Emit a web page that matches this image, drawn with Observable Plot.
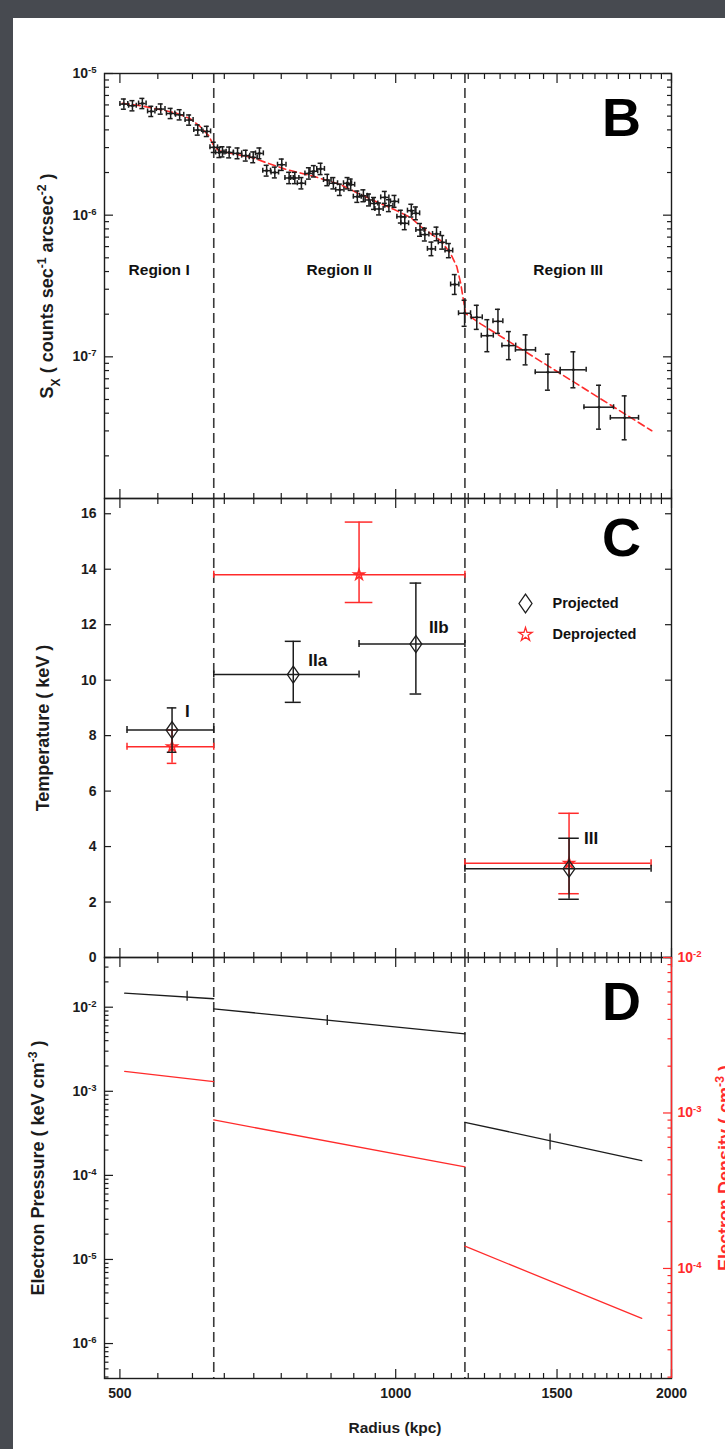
<!DOCTYPE html>
<html>
<head>
<meta charset="utf-8">
<script src="https://cdn.jsdelivr.net/npm/d3@7"></script>
<script src="https://cdn.jsdelivr.net/npm/@observablehq/plot@0.6"></script>
<style>
  html, body { margin: 0; padding: 0; background: #474a50; }
  #page { position: relative; width: 725px; height: 1449px; overflow: hidden; background: #474a50; }
  #sheet { position: absolute; left: 13px; top: 18px; width: 712px; height: 1431px; background: #ffffff; }
  #page svg { position: absolute; left: 0; top: 0; background: none !important; overflow: visible; max-width: none; }
</style>
</head>
<body>
<div id="page"><div id="sheet"></div></div>
<script>
// ================= DATA =================
const xDomain = [481, 2000];                     // Radius (kpc)
const regionNames = ["Region I", "Region II", "Region III"];
const regionEdges = [481, 633, 1190, 2000];
const edgeRadii = [633, 1190];                   // dashed boundaries

// Panel B : surface brightness profile
const sxRadius = [505,516,529,541,554,568,581,595,608,622,633,642,647,658,672,686,699,710,723,738,751,765,776,789,804,814,828,842,855,869,886,893,908,922,935,947,959,973,983,997,1013,1023,1040,1052,1063,1076,1094,1108,1124,1143,1160,1189,1226,1259,1293,1329,1386,1466,1563,1667,1778];
const sxValue = [6.08e-6,5.92e-6,6.14e-6,5.40e-6,5.61e-6,5.22e-6,5.11e-6,4.69e-6,3.99e-6,3.90e-6,3.01e-6,2.77e-6,2.80e-6,2.77e-6,2.73e-6,2.63e-6,2.56e-6,2.73e-6,2.06e-6,2.00e-6,2.27e-6,1.83e-6,1.83e-6,1.68e-6,1.97e-6,2.04e-6,2.12e-6,1.77e-6,1.68e-6,1.51e-6,1.68e-6,1.64e-6,1.35e-6,1.37e-6,1.28e-6,1.21e-6,1.106e-6,1.335e-6,1.167e-6,1.251e-6,9.76e-7,8.76e-7,1.076e-6,1.03e-6,7.87e-7,7.29e-7,5.78e-7,7.37e-7,6.43e-7,5.62e-7,3.24e-7,2.03e-7,1.90e-7,1.41e-7,1.78e-7,1.20e-7,1.12e-7,7.79e-8,8.10e-8,4.41e-8,3.71e-8];
const sxRadiusErr = [5,5,5,5,6,6,6,6,6,6,6,6,6,7,7,7,7,7,7,7,8,8,8,8,8,8,8,8,9,9,9,9,9,9,9,9,10,10,10,10,10,10,10,10,11,11,11,11,11,11,12,18,17,19,16,23,35,46,51,62,63];
const sxErrDex = [0.036,0.036,0.036,0.036,0.036,0.036,0.036,0.036,0.036,0.036,0.036,0.036,0.036,0.038,0.038,0.038,0.038,0.038,0.038,0.038,0.04,0.04,0.04,0.04,0.04,0.04,0.04,0.04,0.04,0.04,0.04,0.04,0.04,0.042,0.042,0.042,0.042,0.042,0.042,0.042,0.045,0.045,0.045,0.045,0.045,0.045,0.048,0.048,0.048,0.05,0.07,0.092,0.085,0.113,0.085,0.099,0.106,0.127,0.127,0.155,0.155];
const modelRadius = [503,527,554,575,597,612,625,633,641,660,695,725,758,814,871,909,963,995,1039,1065,1120,1148,1166,1177,1186,1192,1238,1369,1514,1674,1903];
const modelSx = [6.16e-6,5.92e-6,5.55e-6,5.28e-6,4.79e-6,4.21e-6,3.64e-6,3.09e-6,2.85e-6,2.74e-6,2.56e-6,2.33e-6,2.11e-6,1.88e-6,1.64e-6,1.43e-6,1.205e-6,1.10e-6,9.60e-7,8.30e-7,6.61e-7,5.35e-7,4.33e-7,3.34e-7,2.49e-7,2.02e-7,1.71e-7,1.14e-7,7.59e-8,5.05e-8,3.01e-8];

// Panel C : temperature
const projLabels = ["I", "IIa", "IIb", "III"];
const projRadius = [570, 773, 1052, 1546];
const projRadiusLo = [509, 633, 912, 1190];
const projRadiusHi = [633, 912, 1190, 1900];
const projTemp = [8.2, 10.2, 11.3, 3.2];
const projTempLo = [7.4, 9.2, 9.5, 2.1];
const projTempHi = [9.0, 11.4, 13.5, 4.3];
const deprojRadius = [570, 912, 1546];
const deprojRadiusLo = [509, 633, 1190];
const deprojRadiusHi = [633, 1190, 1900];
const deprojTemp = [7.6, 13.8, 3.4];
const deprojTempLo = [7.0, 12.8, 2.3];
const deprojTempHi = [8.2, 15.7, 5.2];
const legendNames = ["Projected", "Deprojected"];

// Panel D : pressure (black, left axis) and density (red, right axis)
const segNames = ["I", "II", "III"];
const segStart = [506, 633, 1190];
const segEnd = [633, 1190, 1856];
const pressStart = [0.01468, 0.00957, 4.28e-4];
const pressEnd = [0.0126, 0.00482, 1.50e-4];
const densStart = [1.85e-3, 9.02e-4, 1.39e-4];
const densEnd = [1.59e-3, 4.50e-4, 4.78e-5];
const pressErrRadius = [592, 842, 1474];
const pressErrLo = [0.0118, 0.00606, 2.0e-4];
const pressErrHi = [0.0155, 0.00797, 3.11e-4];

// Ticks
const xMajorTicks = [500, 1000, 1500, 2000];
const xTickLabels = ["500", "1000", "1500", "2000"];
const sxTicks = [1e-5, 1e-6, 1e-7];
const sxTickLabels = ["10^{-5}", "10^{-6}", "10^{-7}"];
const tempTicks = [0, 2, 4, 6, 8, 10, 12, 14, 16];
const tempTickLabels = ["0", "2", "4", "6", "8", "10", "12", "14", "16"];
const pressTicks = [1e-2, 1e-3, 1e-4, 1e-5, 1e-6];
const pressTickLabels = ["10^{-2}", "10^{-3}", "10^{-4}", "10^{-5}", "10^{-6}"];
const densTicks = [1e-2, 1e-3, 1e-4];
const densTickLabels = ["10^{-2}", "10^{-3}", "10^{-4}"];

// ================= LAYOUT / STYLE =================
const W = 725, H = 1449, L = 104, R = 671;
const B_TOP = 73, B_BOT = 498, C_BOT = 957, D_BOT = 1378;
const FONT = '"Liberation Sans", Arial, Helvetica, sans-serif';
const INK = "#1c1c1c", RED = "#ff2b2b", DASH = "#3a3a3a";
const sxDomain = [1e-8, 1e-5], tempDomain = [0, 16.55], pressDomain = [3.84e-7, 0.039], densDomain = [1.96e-5, 1e-2];

const xMinorTicks = [];
for (let v = 550; v < 2000; v += 50) if (!xMajorTicks.includes(v)) xMinorTicks.push(v);
function logMinor([lo, hi]) {
  const a = [];
  for (let e = Math.floor(Math.log10(lo)); e <= Math.ceil(Math.log10(hi)); e++)
    for (let k = 2; k <= 9; k++) { const v = k * Math.pow(10, e); if (v >= lo && v <= hi) a.push(v); }
  return a;
}

const noText = () => "";
function xTicks() {
  const o = {tickFormat: noText, label: null, stroke: INK, strokeWidth: 1.2};
  return [
    Plot.axisX(xMajorTicks, {...o, anchor: "bottom", tickSize: -9}),
    Plot.axisX(xMinorTicks, {...o, anchor: "bottom", tickSize: -5}),
    Plot.axisX(xMajorTicks, {...o, anchor: "top", tickSize: -9}),
    Plot.axisX(xMinorTicks, {...o, anchor: "top", tickSize: -5})
  ];
}
function yTicks(major, minor, anchors, stroke = INK, majLen = 9, minLen = 5) {
  const o = {tickFormat: noText, label: null, stroke, strokeWidth: 1.2};
  const out = [];
  for (const a of anchors) {
    out.push(Plot.axisY(major, {...o, anchor: a, tickSize: -majLen}));
    if (minor) out.push(Plot.axisY(minor, {...o, anchor: a, tickSize: -minLen}));
  }
  return out;
}
function yLabels(ticks, labels, side = "left", fill = INK) {
  return Plot.text(ticks, {y: d => d, text: (d, i) => labels[i], frameAnchor: side,
    dx: side === "left" ? -8 : 6, textAnchor: side === "left" ? "end" : "start",
    lineAnchor: "middle", fontSize: 14, fontWeight: "bold", fill});
}
function yTitle(text, dx, fill = INK, side = "left") {
  return Plot.text([text], {frameAnchor: side, dx, rotate: -90, textAnchor: "middle",
    lineAnchor: "middle", fontSize: 18, fontWeight: "bold", fill});
}
function panelLetter(letter, dy) {
  return Plot.text([letter], {frameAnchor: "top-right", dx: -50, dy, textAnchor: "middle",
    lineAnchor: "middle", fontSize: 54, fontWeight: "bold", fill: "#000"});
}
const dashed = () => Plot.ruleX(edgeRadii, {stroke: DASH, strokeWidth: 1.6, strokeDasharray: "10,5"});

function makePlot(top, bottom, y, marks, xAxis = true) {
  return Plot.plot({
    width: W, height: H,
    marginLeft: L, marginRight: W - R, marginTop: top, marginBottom: H - bottom,
    x: xAxis ? {type: "log", domain: xDomain} : {type: "log", domain: xDomain, axis: null},
    y,
    style: {background: "none", overflow: "visible", fontFamily: FONT, fontSize: "14px", fontWeight: "bold", color: INK},
    marks
  });
}

function errorBars(data, {color, capW, capH = 3.5, sw = 1.5}) {
  return [
    Plot.ruleY(data, {y: "v", x1: "rlo", x2: "rhi", stroke: color, strokeWidth: sw}),
    Plot.ruleX(data, {x: "r", y1: "vlo", y2: "vhi", stroke: color, strokeWidth: sw}),
    Plot.ruleX(data, {x: "rlo", y1: "v", y2: "v", insetTop: -capH, insetBottom: -capH, stroke: color, strokeWidth: sw}),
    Plot.ruleX(data, {x: "rhi", y1: "v", y2: "v", insetTop: -capH, insetBottom: -capH, stroke: color, strokeWidth: sw}),
    Plot.ruleY(data, {y: "vhi", x1: "r", x2: "r", insetLeft: -capW, insetRight: -capW, stroke: color, strokeWidth: sw}),
    Plot.ruleY(data, {y: "vlo", x1: "r", x2: "r", insetLeft: -capW, insetRight: -capW, stroke: color, strokeWidth: sw})
  ];
}

// ================= PANEL B =================
const bPts = sxRadius.map((r, i) => ({
  r, v: sxValue[i], rlo: r - sxRadiusErr[i], rhi: r + sxRadiusErr[i],
  vlo: sxValue[i] / Math.pow(10, sxErrDex[i]), vhi: sxValue[i] * Math.pow(10, sxErrDex[i])
}));
const model = modelRadius.map((r, i) => ({r, v: modelSx[i]}));
const regions = regionNames.map((name, i) => ({name, mid: Math.sqrt(regionEdges[i] * regionEdges[i + 1])}));

const plotB = makePlot(B_TOP, B_BOT, {type: "log", domain: sxDomain}, [
  ...xTicks(),
  ...yTicks(sxTicks, logMinor(sxDomain), ["left", "right"]),
  dashed(),
  Plot.line(model, {x: "r", y: "v", stroke: RED, strokeWidth: 1.6, strokeDasharray: "7,4"}),
  ...errorBars(bPts, {color: INK, capW: 2.5, capH: 2.5, sw: 1.5}),
  Plot.dot(bPts, {x: "r", y: "v", r: 1.4, fill: INK}),
  Plot.text(regions, {x: "mid", frameAnchor: "top", dy: 197, text: "name", fontSize: 15.5, fontWeight: "bold", fill: "#111", lineAnchor: "middle"}),
  yLabels(sxTicks, sxTickLabels),
  yTitle("S_{X} ( counts sec^{-1} arcsec^{-2} )", -57),
  panelLetter("B", 45),
  Plot.frame({stroke: INK, strokeWidth: 1.4})
]);

// ================= PANEL C =================
const proj = projRadius.map((r, i) => ({name: projLabels[i], r, rlo: projRadiusLo[i], rhi: projRadiusHi[i], v: projTemp[i], vlo: projTempLo[i], vhi: projTempHi[i]}));
const deproj = deprojRadius.map((r, i) => ({r, rlo: deprojRadiusLo[i], rhi: deprojRadiusHi[i], v: deprojTemp[i], vlo: deprojTempLo[i], vhi: deprojTempHi[i]}));
function capsFor(data) {
  return data.map(d => { const k = Math.pow(d.rhi / d.rlo, 0.055); return {...d, c1: d.r / k, c2: d.r * k}; });
}
function tempBars(data, color) {
  const sw = 1.5;
  return [
    Plot.ruleY(data, {y: "v", x1: "rlo", x2: "rhi", stroke: color, strokeWidth: sw}),
    Plot.ruleX(data, {x: "r", y1: "vlo", y2: "vhi", stroke: color, strokeWidth: sw}),
    Plot.ruleX(data, {x: "rlo", y1: "v", y2: "v", insetTop: -3.5, insetBottom: -3.5, stroke: color, strokeWidth: sw}),
    Plot.ruleX(data, {x: "rhi", y1: "v", y2: "v", insetTop: -3.5, insetBottom: -3.5, stroke: color, strokeWidth: sw}),
    Plot.ruleY(data, {y: "vhi", x1: "c1", x2: "c2", stroke: color, strokeWidth: sw}),
    Plot.ruleY(data, {y: "vlo", x1: "c1", x2: "c2", stroke: color, strokeWidth: sw})
  ];
}
const diamondSym = {draw(ctx, size) { const h = Math.sqrt(size) * 0.95, w = h * 0.7; ctx.moveTo(0, -h); ctx.lineTo(w, 0); ctx.lineTo(0, h); ctx.lineTo(-w, 0); ctx.closePath(); }};
const labelOffsets = {I: [13, -19], IIa: [15, -14], IIb: [13, -17], III: [15, -30]};

const plotC = makePlot(B_BOT, C_BOT, {type: "linear", domain: tempDomain}, [
  ...xTicks(),
  ...yTicks(tempTicks, null, ["left", "right"], INK, 7),
  dashed(),
  ...tempBars(capsFor(deproj), RED),
  Plot.dot(deproj, {x: "r", y: "v", symbol: "star", r: 3.2, stroke: RED, strokeWidth: 1.6, fill: "none"}),
  ...tempBars(capsFor(proj), INK),
  Plot.dot(proj, {x: "r", y: "v", symbol: diamondSym, r: 5, stroke: INK, strokeWidth: 1.3, fill: "none"}),
  ...projLabels.map(name => Plot.text(proj.filter(d => d.name === name), {x: "r", y: "v", text: "name",
    dx: labelOffsets[name][0], dy: labelOffsets[name][1], textAnchor: "start", lineAnchor: "middle",
    fontSize: 17, fontWeight: "bold", fill: "#111"})),
  // legend
  Plot.dot([legendNames[0]], {frameAnchor: "top-right", dx: -146, dy: 105, symbol: diamondSym, r: 5.5, stroke: INK, strokeWidth: 1.3, fill: "none"}),
  Plot.dot([legendNames[1]], {frameAnchor: "top-right", dx: -146, dy: 136, symbol: "star", r: 4.2, stroke: RED, strokeWidth: 1.3, fill: "none"}),
  Plot.text([legendNames[0]], {frameAnchor: "top-right", dx: -119, dy: 105, textAnchor: "start", lineAnchor: "middle", fontSize: 14.5, fontWeight: "bold", fill: "#111"}),
  Plot.text([legendNames[1]], {frameAnchor: "top-right", dx: -119, dy: 136, textAnchor: "start", lineAnchor: "middle", fontSize: 14.5, fontWeight: "bold", fill: "#111"}),
  yLabels(tempTicks, tempTickLabels),
  yTitle("Temperature ( keV )", -61),
  panelLetter("C", 40),
  Plot.frame({stroke: INK, strokeWidth: 1.4})
]);

// ================= PANEL D =================
const pressSegs = segNames.flatMap((s, i) => [{seg: s, r: segStart[i], v: pressStart[i]}, {seg: s, r: segEnd[i], v: pressEnd[i]}]);
const densSegs = segNames.flatMap((s, i) => [{seg: s, r: segStart[i], v: densStart[i]}, {seg: s, r: segEnd[i], v: densEnd[i]}]);
const pressErr = pressErrRadius.map((r, i) => ({r, lo: pressErrLo[i], hi: pressErrHi[i]}));

const plotD = makePlot(C_BOT, D_BOT, {type: "log", domain: pressDomain}, [
  ...xTicks(),
  ...yTicks(pressTicks, logMinor(pressDomain), ["left"], INK, 9, 4.5),
  dashed(),
  Plot.line(pressSegs, {x: "r", y: "v", z: "seg", stroke: INK, strokeWidth: 1.3}),
  Plot.ruleX(pressErr, {x: "r", y1: "lo", y2: "hi", stroke: INK, strokeWidth: 1.3}),
  yLabels(pressTicks, pressTickLabels),
  yTitle("Electron Pressure ( keV cm^{-3} )", -66),
  Plot.text(xMajorTicks, {x: d => d, text: (d, i) => xTickLabels[i], frameAnchor: "bottom", dy: 15, lineAnchor: "middle", fontSize: 14, fontWeight: "bold", fill: INK}),
  Plot.text(["Radius (kpc)"], {frameAnchor: "bottom", dx: 7, dy: 50, lineAnchor: "middle", fontSize: 15.5, fontWeight: "bold", fill: INK}),
  panelLetter("D", 45),
  Plot.frame({stroke: INK, strokeWidth: 1.4})
]);

const plotD2 = makePlot(C_BOT, D_BOT, {type: "log", domain: densDomain}, [
  Plot.line(densSegs, {x: "r", y: "v", z: "seg", stroke: RED, strokeWidth: 1.3}),
  ...yTicks(densTicks, logMinor(densDomain), ["right"], RED, 9, 4.5),
  Plot.ruleX([xDomain[1]], {stroke: RED, strokeWidth: 1.4}),
  yLabels(densTicks, densTickLabels, "right", RED),
  yTitle("Electron Density ( cm^{-3} )", 54, RED, "right")
], false);

// ================= rich text (super/subscripts) =================
const SVGNS = "http://www.w3.org/2000/svg";
function mk(str, kind) {
  const ts = document.createElementNS(SVGNS, "tspan");
  ts.textContent = str;
  if (kind === "^") { ts.setAttribute("baseline-shift", "super"); ts.setAttribute("font-size", "68%"); }
  if (kind === "_") { ts.setAttribute("baseline-shift", "sub"); ts.setAttribute("font-size", "68%"); }
  return ts;
}
function richify(svg) {
  svg.querySelectorAll("text, tspan").forEach(el => {
    if (el.children.length) return;
    const s = el.textContent;
    if (!/[\^_]\{/.test(s)) return;
    el.textContent = "";
    const re = /([\^_])\{([^}]*)\}/g; let last = 0, m;
    while ((m = re.exec(s))) {
      if (m.index > last) el.appendChild(mk(s.slice(last, m.index)));
      el.appendChild(mk(m[2], m[1]));
      last = re.lastIndex;
    }
    if (last < s.length) el.appendChild(mk(s.slice(last)));
  });
}

const page = document.getElementById("page");
for (const p of [plotB, plotC, plotD, plotD2]) { richify(p); page.appendChild(p); }
</script>
</body>
</html>
